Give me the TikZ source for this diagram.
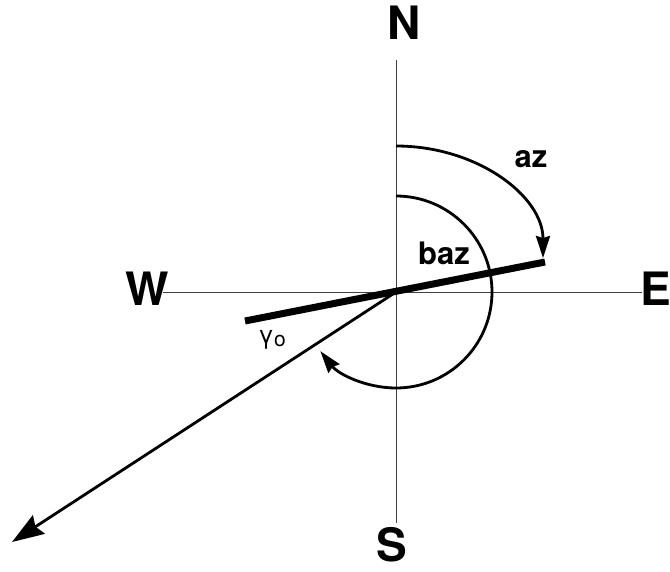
\documentclass[tikz,border=0pt]{standalone}
\usepackage{fontspec}
\setmainfont{TeX Gyre Heros}
\usepackage{tikz}
\usetikzlibrary{arrows.meta, positioning}

\begin{document}
\begin{tikzpicture}[x=1pt, y=-1pt]
\tikzstyle{dir} = [font=\fontsize{46}{46}\selectfont\bfseries, inner sep=0pt]
\tikzstyle{ang} = [font=\fontsize{31}{31}\selectfont\bfseries, inner sep=0pt]
\tikzstyle{axis} = [line width=1pt, black!75]
\tikzstyle{arc} = [line width=2.8pt, -{Stealth[length=22pt, width=14pt, inset=2pt]}]
\useasboundingbox (0,0) rectangle (670,571);

% Compass points
\node (N) [dir] at (404,23) {N};
\node (S) [dir] at (392,545) {S};
\node (W) [dir] at (147,289) {W};
\node (E) [dir] at (656,289) {E};
\coordinate (O) at (396,292);
\coordinate (ntop) at (396,60);
\coordinate (sbot) at (396,523);
\coordinate (wend) at (163,292);
\coordinate (eend) at (642,292);

% Axes
\draw [axis] (ntop) -- (sbot);
\draw [axis] (wend) -- (eend);

% Fault line and ray
\coordinate (fl) at (245,321);
\coordinate (fr) at (545,262);
\coordinate (tip) at (12,542);
\draw [line width=7pt] (fl) -- (fr);
\draw [line width=2.8pt, -{Stealth[length=32pt, width=22pt, inset=4pt]}] (O) -- (tip);

% Angles
\coordinate (azs) at (396,146);
\coordinate (bazs) at (396,196);
\draw [arc] (azs) arc [start angle=-90, end angle=0, x radius=147, y radius=112];
\draw [arc] (bazs) arc [start angle=-90, end angle=142, radius=96];
\node (az) [ang] at (531,159) {az};
\node (baz) [ang] at (444,253) {baz};
\node (gam) [inner sep=0pt, font=\fontsize{25}{25}\selectfont] at (272,340) {γ\raisebox{-3pt}{\fontsize{21}{21}\selectfont o}};

\end{tikzpicture}
\end{document}
